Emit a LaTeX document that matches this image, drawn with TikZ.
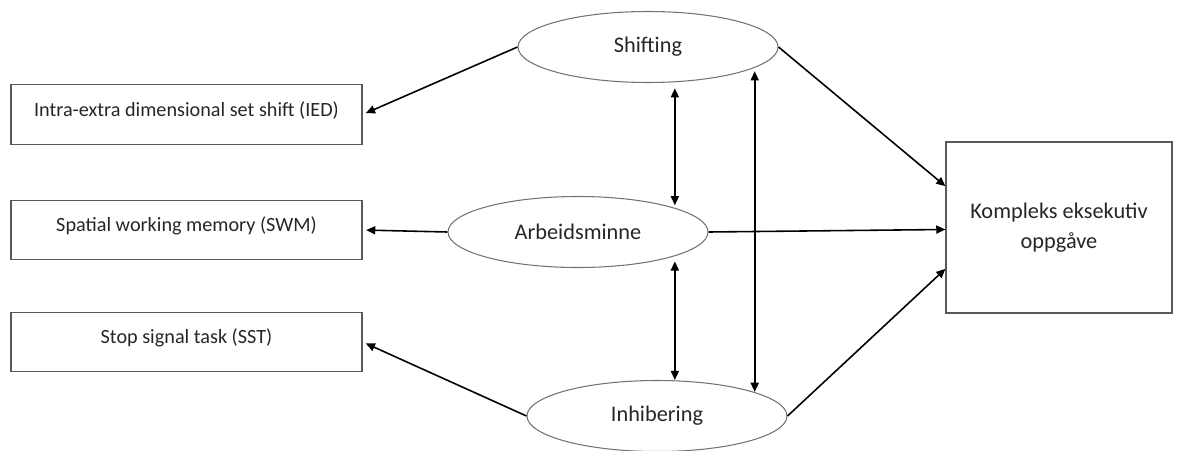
\documentclass[tikz,border=0pt]{standalone}
\usepackage{fontspec}
\setmainfont{Carlito}
\usetikzlibrary{arrows.meta,positioning,shapes.geometric}

\begin{document}
\begin{tikzpicture}[ >={Triangle[length=5.2pt,width=4.6pt]} , line width=0.9pt , on grid ,
task/.style={draw=black!65, line width=0.7pt, minimum width=7.02cm, minimum height=1.19cm, inner sep=0pt, text=black!85, font=\fontsize{11.5}{14}\selectfont, text height=7.5pt, text depth=5.5pt},
func/.style={ellipse, draw=black!55, line width=0.6pt, minimum width=5.2cm, minimum height=1.42cm, inner sep=0pt, text=black!85, font=\fontsize{12.7}{15}\selectfont},
goal/.style={draw=black!65, line width=0.7pt, minimum width=4.52cm, minimum height=3.42cm, inner sep=0pt, align=center, text=black!85, font=\fontsize{12.7}{17}\selectfont} ]
\useasboundingbox (0,0) rectangle (23.64,-9);
\node [ task ] (ied) at (3.73,-2.29) {Intra-extra dimensional set shift (IED)};
\node [ task ] (swm) [ below = 2.31cm of ied] {Spatial working memory (SWM)};
\node [ task ] (sst) [ below = 2.24cm of swm] {Stop signal task (SST)};
\node [ func ] (shift) at (12.96,-0.94) {Shifting};
\node [ func ] (arb) at (11.56,-4.64) {Arbeidsminne};
\node [ func ] (inh) at (13.14,-8.32) {Inhibering};
\node [ goal ] (komp) at (21.18,-4.55) {Kompleks eksekutiv\\oppgåve};
\path [->]
(shift.west) edge [shorten >=2pt] (ied.east)
(arb.west) edge [shorten >=2pt] (swm.east)
(inh.west) edge [shorten >=2pt] (sst.east)
(shift.east) edge (komp.160)
(arb.east) edge (komp.181)
(inh.east) edge (komp.200);
\path [<->]
(shift.south -| arb.14) edge [shorten <=3pt, shorten >=1.5pt] (arb.14)
(arb.-14) edge [shorten <=3pt] (inh.north -| arb.-14)
(shift.-11) edge [shorten <=2pt] (shift.-11 |- inh.14);
\end{tikzpicture}
\end{document}
